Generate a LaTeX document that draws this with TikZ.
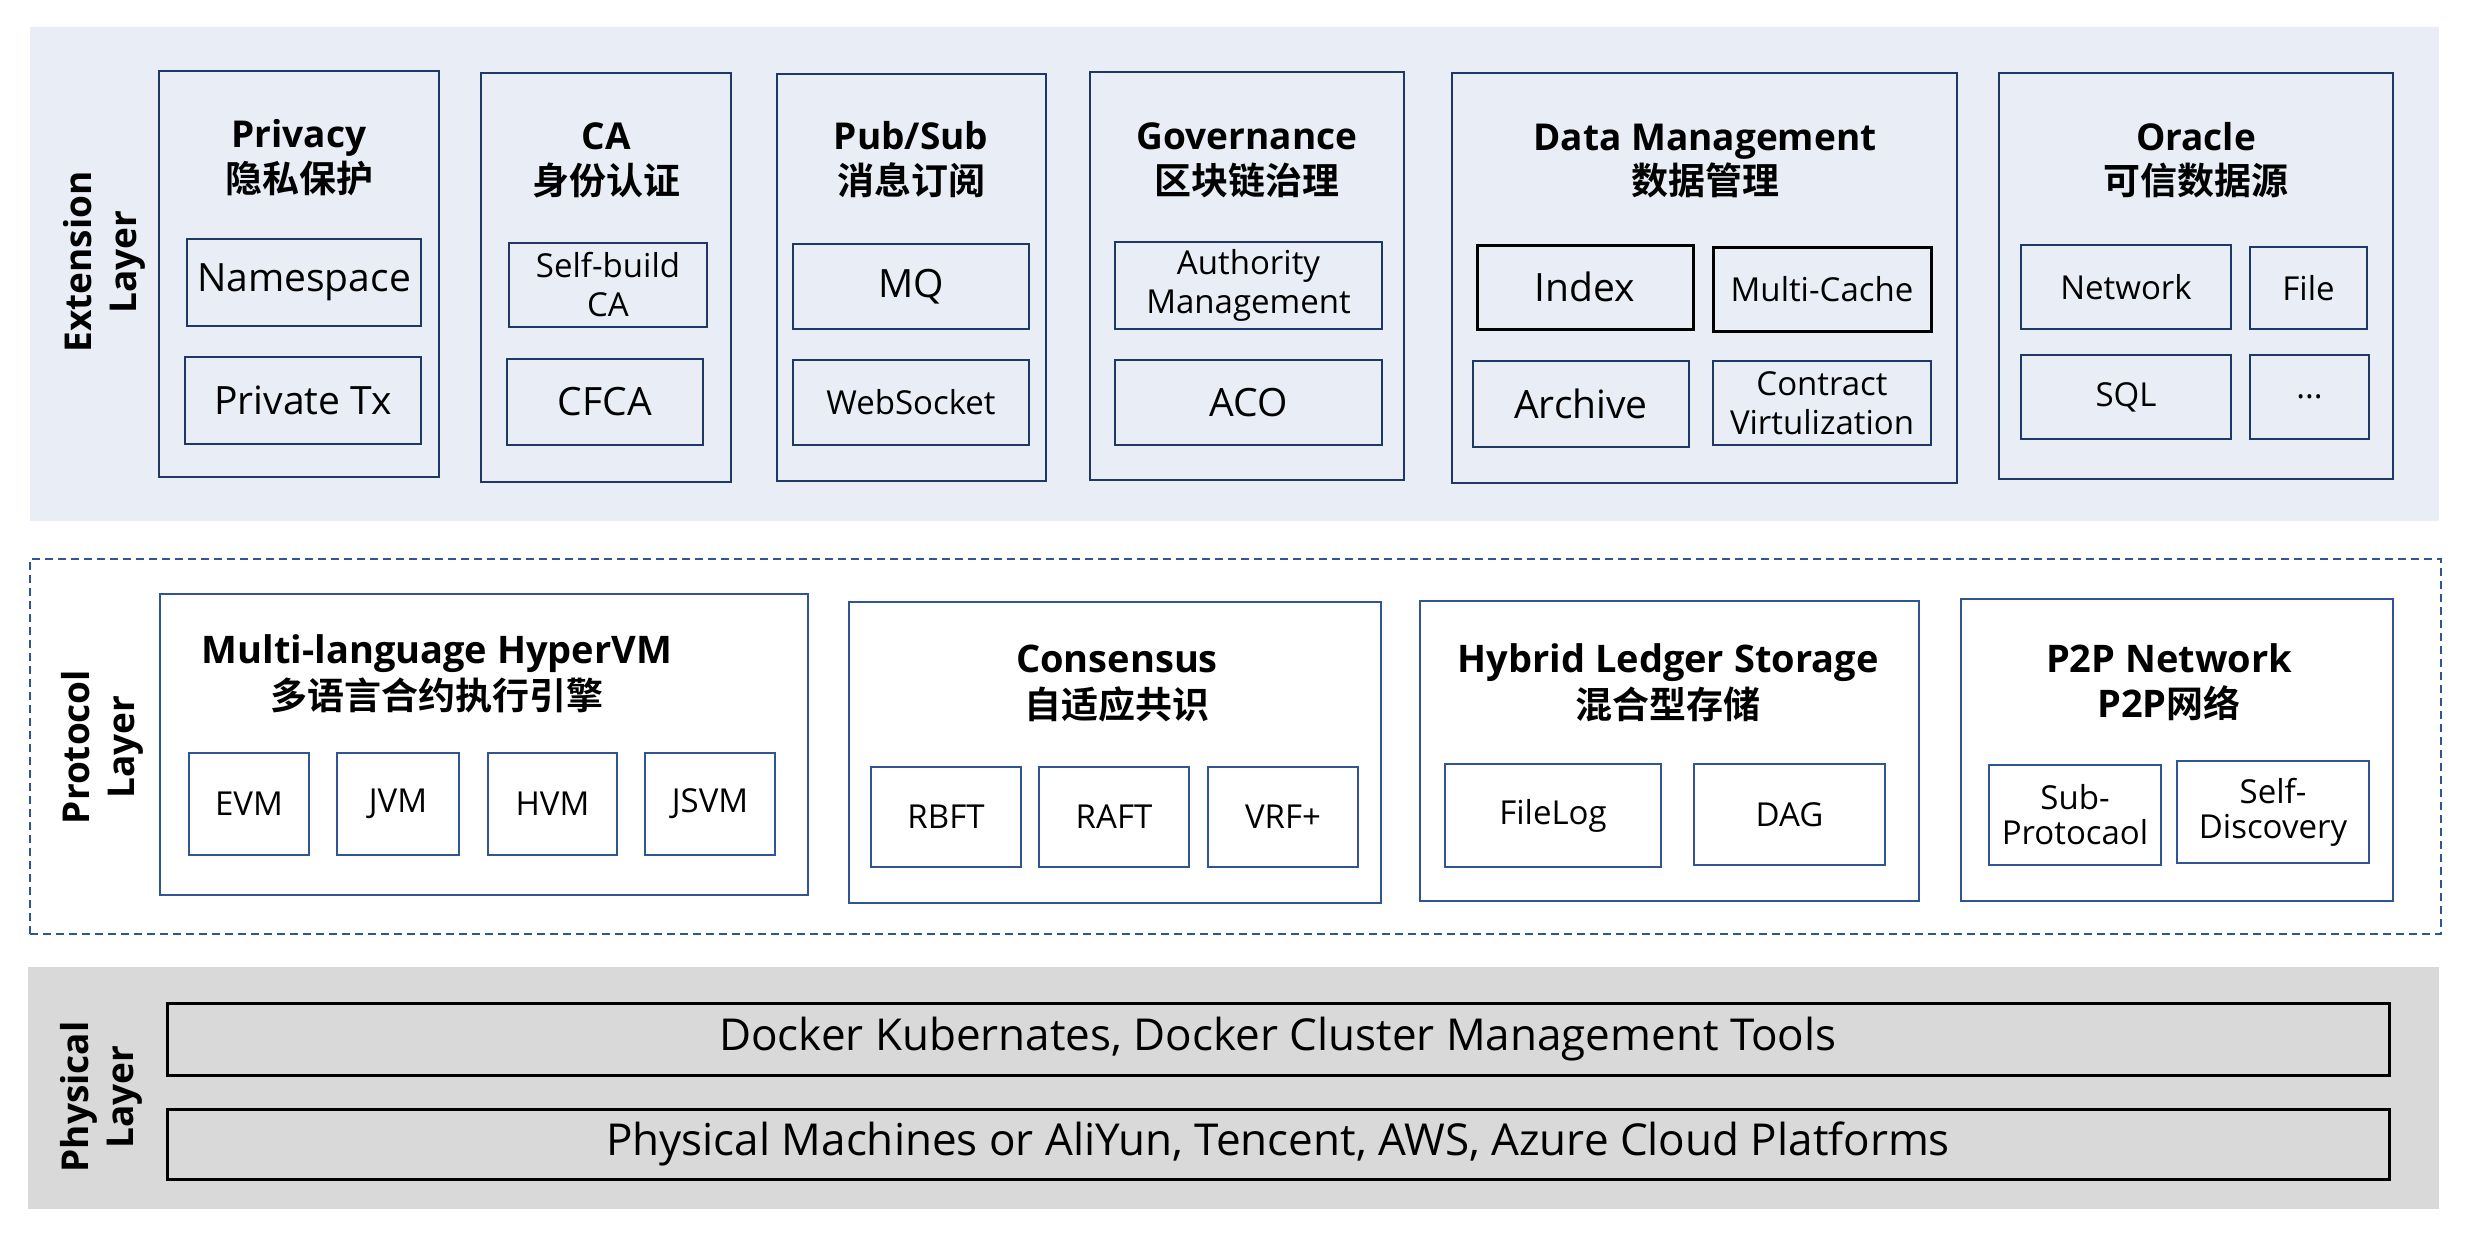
\documentclass[tikz,border=0pt]{standalone}
\usepackage{fontspec}
\setmainfont{Open Sans}
\newfontfamily\cjk[BoldFont={Noto Sans CJK SC Bold}]{Noto Sans CJK SC}
\definecolor{extbg}{RGB}{233,237,245}
\definecolor{navy}{RGB}{31,56,100}
\definecolor{pblue}{RGB}{47,85,151}
\definecolor{physbg}{RGB}{217,217,217}
\begin{document}
\begin{tikzpicture}[x=1pt,y=-1pt,
  rect/.style args={#1/#2/#3/#4}{minimum width={(#3-#1)*1pt}, minimum height={(#4-#2)*1pt},
     at={({(#1+#3)/2},{(#2+#4)/2})}, anchor=center},
  area/.style={inner sep=0pt, draw=none, rectangle},
  ebox/.style={inner sep=0pt, draw=navy, line width=2.5pt, align=center},
  kbox/.style={inner sep=0pt, draw=black, line width=3pt, align=center},
  pbox/.style={inner sep=0pt, draw=pblue, line width=2.6pt, fill=white, align=center},
  phbox/.style={inner sep=0pt, draw=black, line width=3pt, align=center, font=\fontsize{44}{50}\selectfont},
  big/.style={font=\fontsize{39}{46}\selectfont},
  sml/.style={font=\fontsize{33}{39}\selectfont},
  smt/.style={font=\fontsize{33}{35}\selectfont},
  ttl/.style={font=\bfseries\fontsize{37}{44}\selectfont, anchor=base, inner sep=0pt},
  ttlb/.style={font=\bfseries\fontsize{38}{44}\selectfont, anchor=base, inner sep=0pt},
  ttlc/.style={font=\cjk\bfseries\fontsize{37}{44}\selectfont, anchor=base, inner sep=0pt},
  lbl/.style={font=\bfseries\fontsize{37}{45}\selectfont, rotate=90, align=center, inner sep=0pt}
]
\useasboundingbox (0,0) rectangle (2466,1234);

% ---------------- Extension layer ----------------
\node[area, fill=extbg, rect=30/27/2439/521] (extarea) {};
\node[lbl] (extlbl) at (104,262) {Extension\\Layer};

\node[ebox, rect=159/71/439/477] (priv) {};
\node[ttl] (privT) at (299,147) {Privacy};
\node[ttlc] (privC) at (299,192) {隐私保护};
\node[ebox, big, rect=187/239/421/326] (ns) {Namespace};
\node[ebox, big, rect=185/357/421/444] (ptx) {Private Tx};

\node[ebox, rect=481/73/731/482] (ca) {};
\node[ttl] (caT) at (606,149) {CA};
\node[ttlc] (caC) at (606,194) {身份认证};
\node[ebox, sml, rect=509/243/707/327] (sbca) {Self-build\\CA};
\node[ebox, big, rect=507/359/703/445] (cfca) {CFCA};

\node[ebox, rect=777/74/1046/481] (ps) {};
\node[ttl] (psT) at (911,149) {Pub/Sub};
\node[ttlc] (psC) at (911,194) {消息订阅};
\node[ebox, big, rect=793/244/1029/329] (mq) {MQ};
\node[ebox, sml, rect=793/360/1029/445] (ws) {WebSocket};

\node[ebox, rect=1090/72/1404/480] (gov) {};
\node[ttl] (govT) at (1247,149) {Governance};
\node[ttlc] (govC) at (1247,194) {区块链治理};
\node[ebox, sml, rect=1115/242/1382/329] (auth) {Authority\\Management};
\node[ebox, big, rect=1115/360/1382/445] (aco) {ACO};

\node[ebox, rect=1452/73/1957/483] (dm) {};
\node[ttl] (dmT) at (1705,150) {Data Management};
\node[ttlc] (dmC) at (1705,194) {数据管理};
\node[kbox, big, rect=1477/245/1693/329] (idx) {Index};
\node[kbox, sml, rect=1713/247/1931/331] (mc) {Multi-Cache};
\node[ebox, big, rect=1473/361/1689/447] (arch) {Archive};
\node[ebox, sml, rect=1713/361/1931/445] (cv) {Contract\\Virtulization};

\node[ebox, rect=1999/73/2393/479] (orc) {};
\node[ttl] (orcT) at (2196,150) {Oracle};
\node[ttlc] (orcC) at (2196,194) {可信数据源};
\node[ebox, sml, rect=2021/245/2231/329] (net) {Network};
\node[ebox, sml, rect=2250/247/2367/329] (file) {File};
\node[ebox, sml, rect=2021/355/2231/439] (sql) {SQL};
\node[ebox, sml, rect=2250/355/2369/439] (dots) {...};

% ---------------- Protocol layer ----------------
\node[inner sep=0pt, draw=pblue, line width=2.6pt, dash pattern=on 8pt off 5pt, rect=30/559/2441/934] (protoarea) {};
\node[lbl] (protolbl) at (102,747) {Protocol\\Layer};

\node[pbox, rect=160/594/808/895] (hvm) {};
\node[ttlb] (hvmT) at (437,663) {Multi-language HyperVM};
\node[ttlc] (hvmC) at (437,709) {多语言合约执行引擎};
\node[pbox, sml, rect=189/753/309/855] (evm) {EVM};
\node[pbox, sml, rect=337/753/459/855] (jvm) {JVM};
\node[pbox, sml, rect=488/753/617/855] (hvmb) {HVM};
\node[pbox, sml, rect=645/753/775/855] (jsvm) {JSVM};

\node[pbox, rect=849/602/1381/903] (cons) {};
\node[ttlb] (consT) at (1117,672) {Consensus};
\node[ttlc] (consC) at (1117,718) {自适应共识};
\node[pbox, sml, rect=871/767/1021/867] (rbft) {RBFT};
\node[pbox, sml, rect=1039/767/1189/867] (raft) {RAFT};
\node[pbox, sml, rect=1208/767/1358/867] (vrf) {VRF+};

\node[pbox, rect=1420/601/1919/901] (hyb) {};
\node[ttlb] (hybT) at (1668,672) {Hybrid Ledger Storage};
\node[ttlc] (hybC) at (1668,718) {混合型存储};
\node[pbox, sml, rect=1445/764/1661/867] (flog) {FileLog};
\node[pbox, sml, rect=1694/764/1885/865] (dag) {DAG};

\node[pbox, rect=1961/599/2393/901] (p2p) {};
\node[ttlb] (p2pT) at (2169,672) {P2P Network};
\node[ttlb] (p2pC) at (2169,717) {P2P{\cjk\bfseries\fontsize{37}{44}\selectfont 网络}};
\node[pbox, smt, rect=1989/765/2161/865] (sub) {Sub-\\Protocaol};
\node[pbox, smt, rect=2177/761/2369/863] (sd) {Self-\\Discovery};

% ---------------- Physical layer ----------------
\node[area, fill=physbg, rect=28/967/2439/1209] (pharea) {};
\node[lbl] (phlbl) at (101,1097) {Physical\\Layer};
\node[phbox, rect=167/1003/2389/1075] (docker) {Docker Kubernates, Docker Cluster Management Tools};
\node[phbox, rect=167/1109/2389/1179] (machines) {Physical Machines or AliYun, Tencent, AWS, Azure Cloud Platforms};
\end{tikzpicture}
\end{document}
